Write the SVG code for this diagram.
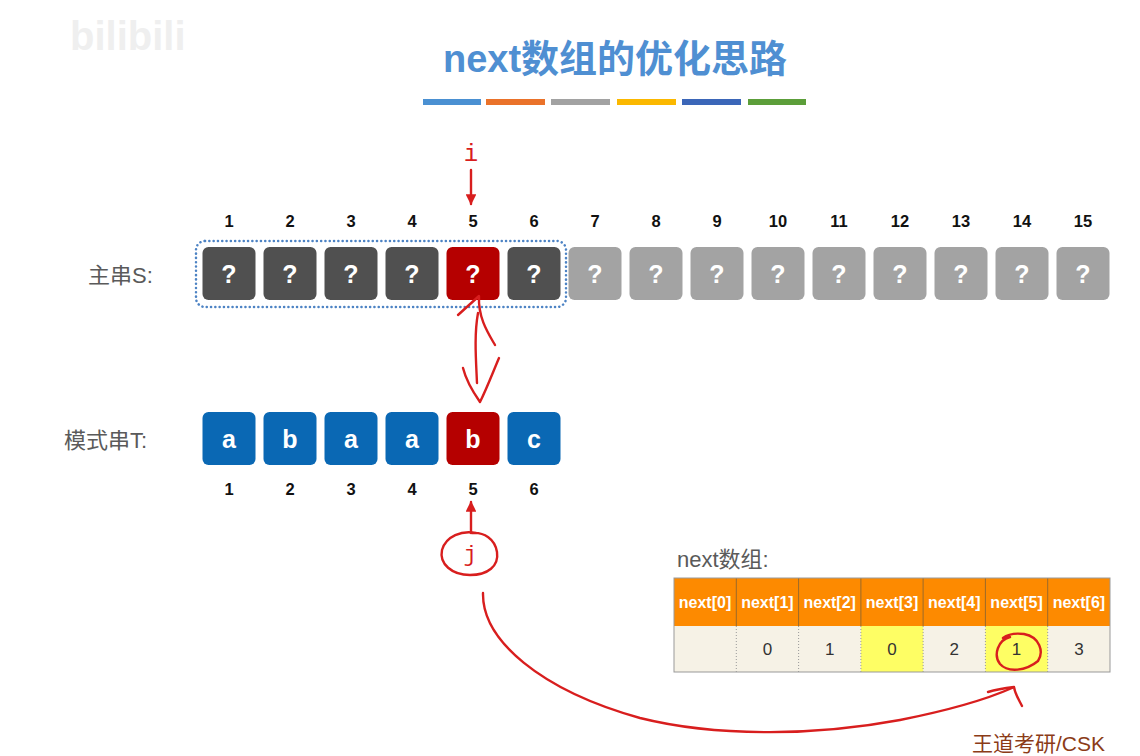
<svg xmlns="http://www.w3.org/2000/svg" width="1140" height="756" viewBox="0 0 1140 756">
<defs>
<style>
.num{font-family:"Liberation Sans",Arial,sans-serif;font-size:16.5px;font-weight:bold;fill:#111;text-anchor:middle}
.q{font-family:"Liberation Sans",Arial,sans-serif;font-size:25px;font-weight:bold;fill:#fff;text-anchor:middle}
.ch{font-family:"Liberation Sans",Arial,sans-serif;font-size:25px;font-weight:bold;fill:#fff;text-anchor:middle}
.lbl{font-family:"Liberation Sans","Noto Sans CJK SC",sans-serif;font-size:22px;fill:#5a5a5a}
.dk{fill:#505050}
.lt{fill:#a3a3a3}
.rd{fill:#b50000}
.bl{fill:#0a68b4}
.hd{font-family:"Liberation Sans",Arial,sans-serif;font-size:16px;font-weight:bold;fill:#fff;text-anchor:middle}
.val{font-family:"Liberation Sans",Arial,sans-serif;font-size:17px;fill:#333;text-anchor:middle}
.pen{fill:none;stroke:#d81e1e;stroke-width:2.4;stroke-linecap:round;stroke-linejoin:round}
</style>
<marker id="ah" viewBox="0 0 10 10" refX="9" refY="5" markerWidth="4.5" markerHeight="4.5" orient="auto"><path d="M0,0 L10,5 L0,10 z" fill="#d81e1e"/></marker>
</defs>
<rect width="1140" height="756" fill="#fff"/>
<text x="70" y="50" font-family="Liberation Sans,Arial,sans-serif" font-size="40" font-weight="bold" fill="#efefef">bilibili</text>
<text x="615" y="72" text-anchor="middle" font-family="Liberation Sans,'Noto Sans CJK SC',sans-serif" font-size="38" font-weight="bold" fill="#4f8fd2">next数组的优化思路</text>
<g id="bars">
<rect x="423" y="99" width="58" height="6" fill="#4a90d2"/>
<rect x="486" y="99" width="59" height="6" fill="#ea722a"/>
<rect x="551" y="99" width="59" height="6" fill="#a2a2a2"/>
<rect x="617" y="99" width="59" height="6" fill="#fbb800"/>
<rect x="682" y="99" width="59" height="6" fill="#3b66b8"/>
<rect x="748" y="99" width="58" height="6" fill="#5c9e3a"/>
</g>
<g id="labelS"><text class="lbl" x="88" y="283">主串S:</text></g>
<g id="labelT"><text class="lbl" x="64" y="448">模式串T:</text></g>
<g id="window"><rect x="196" y="241" width="370" height="66" rx="9" fill="none" stroke="#4d83c4" stroke-width="2.5" stroke-dasharray="0.1 4.2" stroke-linecap="round"/></g>
<g id="S">
<g class="num"><text x="229" y="227">1</text><text x="290" y="227">2</text><text x="351" y="227">3</text><text x="412" y="227">4</text><text x="473" y="227">5</text><text x="534" y="227">6</text><text x="595" y="227">7</text><text x="656" y="227">8</text><text x="717" y="227">9</text><text x="778" y="227">10</text><text x="839" y="227">11</text><text x="900" y="227">12</text><text x="961" y="227">13</text><text x="1022" y="227">14</text><text x="1083" y="227">15</text></g>
<rect class="dk" x="202.5" y="247" width="53" height="53" rx="6"/>
<rect class="dk" x="263.5" y="247" width="53" height="53" rx="6"/>
<rect class="dk" x="324.5" y="247" width="53" height="53" rx="6"/>
<rect class="dk" x="385.5" y="247" width="53" height="53" rx="6"/>
<rect class="rd" x="446.5" y="247" width="53" height="53" rx="6"/>
<rect class="dk" x="507.5" y="247" width="53" height="53" rx="6"/>
<rect class="lt" x="568.5" y="247" width="53" height="53" rx="6"/>
<rect class="lt" x="629.5" y="247" width="53" height="53" rx="6"/>
<rect class="lt" x="690.5" y="247" width="53" height="53" rx="6"/>
<rect class="lt" x="751.5" y="247" width="53" height="53" rx="6"/>
<rect class="lt" x="812.5" y="247" width="53" height="53" rx="6"/>
<rect class="lt" x="873.5" y="247" width="53" height="53" rx="6"/>
<rect class="lt" x="934.5" y="247" width="53" height="53" rx="6"/>
<rect class="lt" x="995.5" y="247" width="53" height="53" rx="6"/>
<rect class="lt" x="1056.5" y="247" width="53" height="53" rx="6"/>
<g class="q"><text x="229" y="283">?</text><text x="290" y="283">?</text><text x="351" y="283">?</text><text x="412" y="283">?</text><text x="473" y="283">?</text><text x="534" y="283">?</text><text x="595" y="283">?</text><text x="656" y="283">?</text><text x="717" y="283">?</text><text x="778" y="283">?</text><text x="839" y="283">?</text><text x="900" y="283">?</text><text x="961" y="283">?</text><text x="1022" y="283">?</text><text x="1083" y="283">?</text></g>
</g>
<g id="T">
<rect class="bl" x="202.5" y="412" width="53" height="53" rx="6"/>
<rect class="bl" x="263.5" y="412" width="53" height="53" rx="6"/>
<rect class="bl" x="324.5" y="412" width="53" height="53" rx="6"/>
<rect class="bl" x="385.5" y="412" width="53" height="53" rx="6"/>
<rect class="rd" x="446.5" y="412" width="53" height="53" rx="6"/>
<rect class="bl" x="507.5" y="412" width="53" height="53" rx="6"/>
<g class="ch"><text x="229" y="448">a</text><text x="290" y="448">b</text><text x="351" y="448">a</text><text x="412" y="448">a</text><text x="473" y="448">b</text><text x="534" y="448">c</text></g>
<g class="num"><text x="229" y="495">1</text><text x="290" y="495">2</text><text x="351" y="495">3</text><text x="412" y="495">4</text><text x="473" y="495">5</text><text x="534" y="495">6</text></g>
</g>
<g id="i-pointer">
<text x="471" y="161" text-anchor="middle" font-family="Liberation Mono,monospace" font-size="24" fill="#d81e1e">i</text>
</g>
<g id="j-pointer">
<text x="470" y="561" text-anchor="middle" font-family="Liberation Mono,monospace" font-size="22" fill="#d81e1e">j</text>
<path class="pen" d="M476,533 C462,530 446,536 442,550 C439,564 452,575 470,575 C488,575 499,566 497,552 C495,539 484,532 472,533"/>
</g>
<g id="table">
<text class="lbl" x="677" y="567">next数组:</text>
<rect x="674" y="578" width="436" height="48" fill="#fd8a00"/>
<rect x="674" y="626" width="436" height="46" fill="#f6f2e6"/>
<rect x="860.9" y="626" width="62.3" height="46" fill="#fefe64"/>
<rect x="985.4" y="626" width="62.3" height="46" fill="#fefe64"/>
<g stroke="#9a6a2a" stroke-width="1"><line x1="736.3" y1="578" x2="736.3" y2="626"/><line x1="798.6" y1="578" x2="798.6" y2="626"/><line x1="860.9" y1="578" x2="860.9" y2="626"/><line x1="923.1" y1="578" x2="923.1" y2="626"/><line x1="985.4" y1="578" x2="985.4" y2="626"/><line x1="1047.7" y1="578" x2="1047.7" y2="626"/></g>
<g stroke="#999" stroke-width="1" stroke-dasharray="1 2"><line x1="736.3" y1="626" x2="736.3" y2="672"/><line x1="798.6" y1="626" x2="798.6" y2="672"/><line x1="860.9" y1="626" x2="860.9" y2="672"/><line x1="923.1" y1="626" x2="923.1" y2="672"/><line x1="985.4" y1="626" x2="985.4" y2="672"/><line x1="1047.7" y1="626" x2="1047.7" y2="672"/></g>
<rect x="674" y="578" width="436" height="94" fill="none" stroke="#999" stroke-width="1"/>
<g class="hd"><text x="705" y="608">next[0]</text><text x="767.4" y="608">next[1]</text><text x="829.7" y="608">next[2]</text><text x="892" y="608">next[3]</text><text x="954.3" y="608">next[4]</text><text x="1016.6" y="608">next[5]</text><text x="1078.9" y="608">next[6]</text></g>
<g class="val"><text x="767.4" y="655">0</text><text x="829.7" y="655">1</text><text x="892" y="655">0</text><text x="954.3" y="655">2</text><text x="1016.6" y="655">1</text><text x="1078.9" y="655">3</text></g>
</g>
<g id="connectors">
<line class="pen" x1="471" y1="170" x2="471" y2="204" marker-end="url(#ah)"/>
<line class="pen" x1="471" y1="533" x2="471" y2="502" marker-end="url(#ah)"/>
<path class="pen" d="M458,315 L479,296 C478,318 488,333 495,345"/>
<path class="pen" d="M478,313 C474,335 476,360 477,383"/>
<path class="pen" d="M463,368 C466,380 473,392 480,402 C487,388 493,372 499,358"/>
<path class="pen" d="M483,593 C482,640 540,690 640,718 C720,738 820,735 900,720 C950,710 985,700 1012,688"/>
<path class="pen" d="M988,692 C998,689 1006,688 1014,687 C1015,694 1019,700 1022,706"/>
<path class="pen" d="M1010,637 C998,640 993,655 1000,664 C1008,673 1026,671 1038,661 C1044,652 1040,637 1024,634 C1016,633 1008,634 1003,638"/>
</g>
<text x="972" y="751" font-family="Liberation Sans,'Noto Sans CJK SC',sans-serif" font-size="21" fill="#8b3b17">王道考研/CSK</text>
</svg>
